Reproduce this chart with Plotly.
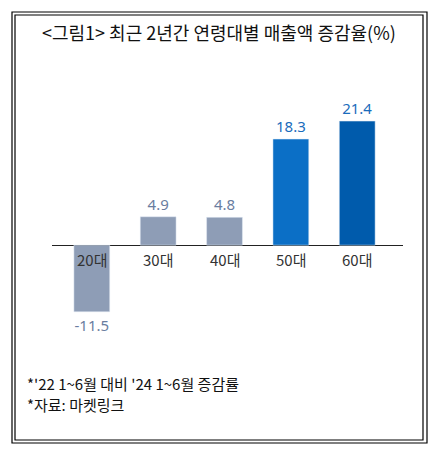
import plotly.graph_objects as go

categories = ["20대", "30대", "40대", "50대", "60대"]
values = [-11.5, 4.9, 4.8, 18.3, 21.4]
bar_colors = ["#8e9db6", "#8e9db6", "#8e9db6", "#0b6fc6", "#005bac"]
label_colors = ["#6a7d9f", "#6a7d9f", "#6a7d9f", "#1a6cbc", "#1a6cbc"]

title_text = "&lt;그림1&gt; 최근 2년간 연령대별 매출액 증감율(%)"
notes = ["*'22 1~6월 대비 '24 1~6월 증감률", "*자료: 마켓링크"]

kfont = "Noto Sans CJK KR"
PW, PH = 351, 240  # plot area in px
OFF = 8  # page body margin

fig = go.Figure()
fig.add_trace(go.Bar(
    x=categories, y=values, marker_color=bar_colors, width=0.54,
    text=[f"{v:.1f}" for v in values], textposition="outside",
    textfont=dict(family="Noto Sans", size=15, color=label_colors),
    cliponaxis=False, hoverinfo="skip",
))

# category names sit just under the zero line
for c in categories:
    fig.add_annotation(x=c, y=0, xref="x", yref="y", text=c, showarrow=False,
                       yanchor="top", yshift=-2,
                       font=dict(family=kfont, size=15, color="#333333"))

fig.add_annotation(x=0.5 + (219 - 227.5) / PW, y=1 + (95 - 32) / PH, xref="paper", yref="paper",
                   text=title_text, showarrow=False, yanchor="middle",
                   font=dict(family=kfont, size=18, color="#111111"))

for i, n in enumerate(notes):
    fig.add_annotation(x=-27 / PW, y=-(383 + 21 * i - 335) / PH, xref="paper", yref="paper",
                       text=n, showarrow=False, xanchor="left", yanchor="middle",
                       font=dict(family=kfont, size=15, color="#111111"))

# double frame
fig.add_shape(type="rect", xref="paper", yref="paper",
              x0=-40 / PW, x1=1 + 24 / PW, y0=-(443 - 335) / PH, y1=1 + (95 - 12) / PH,
              line=dict(color="black", width=1.2))
fig.add_shape(type="rect", xref="paper", yref="paper",
              x0=-37 / PW, x1=1 + 20 / PW, y0=-(440 - 335) / PH, y1=1 + (95 - 15) / PH,
              line=dict(color="black", width=1.2))

fig.update_layout(
    width=438 - OFF, height=455 - OFF,
    paper_bgcolor="white", plot_bgcolor="white",
    margin=dict(l=52 - OFF, r=35, t=95 - OFF, b=120),
    showlegend=False,
    xaxis=dict(range=[-0.6, 4.69], showticklabels=False, showgrid=False,
               zeroline=False, showline=False, ticks=""),
    yaxis=dict(range=[-15.5, 25.9], showticklabels=False, showgrid=False,
               zeroline=True, zerolinecolor="#222222", zerolinewidth=1.2),
)

fig.write_html("out.html")
